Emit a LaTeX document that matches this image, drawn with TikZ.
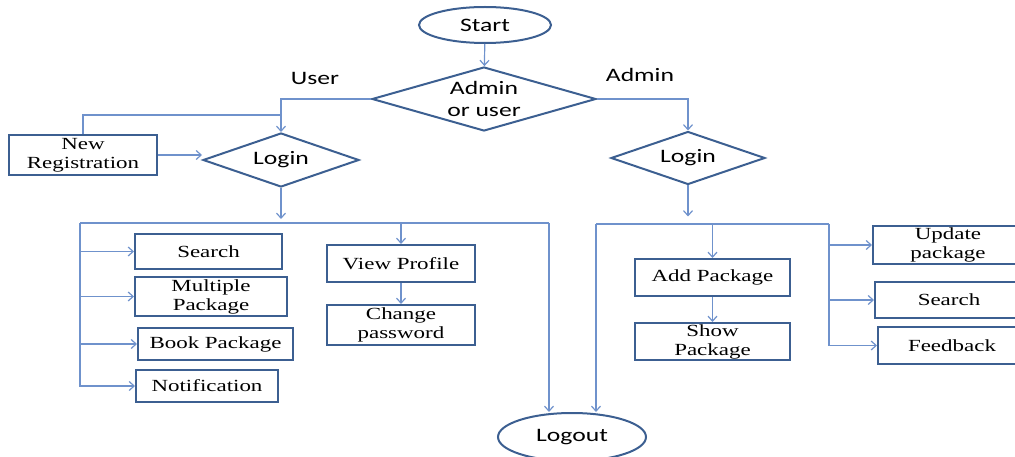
\documentclass[tikz,border=0pt]{standalone}
\usepackage{fontspec}
\setmainfont[FakeStretch=1.35]{Liberation Serif}
\newfontfamily\calib[FakeStretch=1.35]{Carlito}
\usepackage{tikz}
\usetikzlibrary{positioning,calc,shapes.geometric,arrows.meta}
\definecolor{linkblue}{RGB}{111,146,204}
\definecolor{edgeblue}{RGB}{60,95,145}
\tikzset{
	box/.style={draw=edgeblue, line width=2pt, rectangle, inner sep=0pt, align=center, font=\fontsize{17}{19}\selectfont},
	choice/.style={draw=edgeblue, line width=2pt, diamond, inner sep=0pt, align=center, font=\calib\fontsize{19}{22}\selectfont},
	term/.style={draw=edgeblue, line width=2pt, ellipse, inner sep=0pt, font=\calib\fontsize{19}{22}\selectfont},
	link/.style={draw=linkblue, line width=1.2pt},
	>={Straight Barb[length=5pt,width=9pt]}
}
\begin{document}
\begin{tikzpicture}[x=1pt,y=-1pt]
		\useasboundingbox (0,0) rectangle (1015,457);
		\node[term, minimum width=132pt, minimum height=36pt] (start) at (485,25) {Start};
		\node[choice, aspect=3.5, minimum width=224pt, minimum height=64pt] (who) at (484,99) {Admin\\or user};
		\node[font=\calib\fontsize{19}{22}\selectfont] (userlbl) at (315,78) {User};
		\node[font=\calib\fontsize{19}{22}\selectfont] (adminlbl) at (640,75) {Admin};
		% user side
		\node[choice, aspect=2.9, minimum width=156pt, minimum height=54pt] (loginU) at (281,160) {Login};
		\node[box, minimum width=148pt, minimum height=40pt] (newreg) at (83,155) {New\\Registration};
		\node[box, minimum width=147pt, minimum height=35pt] (search) at (208.5,251.5) {Search};
		\node[box, minimum width=152pt, minimum height=39pt] (multi) at (211,296.5) {Multiple\\Package};
		\node[box, minimum width=155pt, minimum height=32pt] (book) at (215.5,344) {Book Package};
		\node[box, minimum width=142pt, minimum height=32pt] (notif) at (207,386) {Notification};
		\node[box, minimum width=148pt, minimum height=37pt] (view) at (401,263.5) {View Profile};
		\node[box, minimum width=148pt, minimum height=40pt] (change) at (401,325) {Change\\password};
		% admin side
		\node[choice, aspect=2.9, minimum width=154pt, minimum height=53pt] (loginA) at (688,158) {Login};
		\node[box, minimum width=155pt, minimum height=37pt] (addpkg) at (712.5,277.5) {Add Package};
		\node[box, minimum width=155pt, minimum height=37pt] (showpkg) at (712.5,341.5) {Show\\Package};
		\node[box, minimum width=150pt, minimum height=38pt] (update) at (948,245) {Update\\package};
		\node[box, minimum width=148pt, minimum height=36pt] (asearch) at (949,300) {Search};
		\node[box, minimum width=148pt, minimum height=37pt] (feedback) at (952,345.5) {Feedback};
		\node[term, minimum width=148pt, minimum height=48pt] (logout) at (572,437) {Logout};
		\coordinate (regjoin) at (281,115);
		\coordinate (ubusL) at (80,223);
		\coordinate (ubusR) at (549,223);
		\coordinate (abusL) at (596,224);
		\coordinate (abusR) at (829,224);
		\draw[link,->] (start) -- (who);
		\draw[link,->] (who.west) -| (loginU.north);
		\draw[link,->] (who.east) -| (loginA.north);
		\draw[link] (newreg.north) |- (regjoin);
		\draw[link,->] (newreg.east) -- (newreg.east -| loginU.west);
		\draw[link,->] (loginU.south) -- ++(0,31);
		\draw[link,->] (loginA.south) -- ++(0,31);
		\draw[link] (ubusL) -- (ubusR);
		\draw[link,->] (ubusR) -- (ubusR |- logout.north);
		\draw[link,->] (ubusL) |- (notif.west);
		\foreach \n in {search,multi,book}
			\draw[link,->] (ubusL |- \n.west) -- (\n.west);
		\draw[link,->] (view.north |- ubusL) -- (view.north);
		\draw[link,->] (view) -- (change);
		\draw[link] (abusL) -- (abusR);
		\draw[link,->] (abusL) -- (abusL |- logout.north);
		\draw[link,->] (addpkg.north |- abusL) -- (addpkg.north);
		\draw[link,->] (addpkg) -- (showpkg);
		\draw[link,->] (abusR) |- (feedback.west);
		\foreach \n in {update,asearch}
			\draw[link,->] (abusR |- \n.west) -- (\n.west);
\end{tikzpicture}
\end{document}
